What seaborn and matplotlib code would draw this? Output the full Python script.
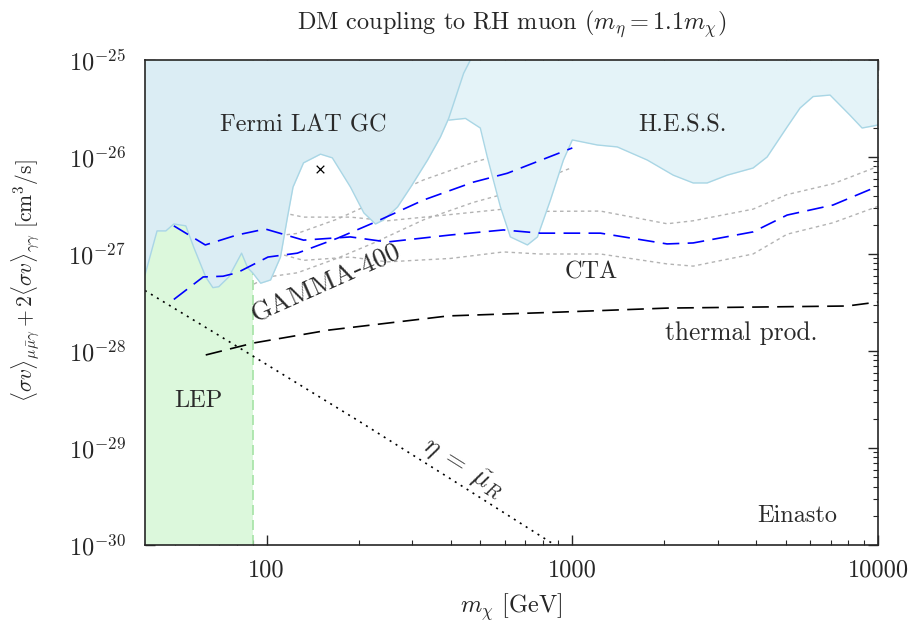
import matplotlib
matplotlib.use("Agg")
import matplotlib.pyplot as plt
import matplotlib.ticker as mticker
import seaborn as sns
import pandas as pd

# values (mass in GeV, <sigma v> in cm^3/s)
fermi_mass = [40, 43.8, 46.8, 49.7, 54.4, 57.7, 63.2, 66.7, 69.7, 75.2, 82.8, 86.7, 90, 95.6,
              103, 111, 117, 122, 132, 150, 164, 188, 208, 227, 241, 268, 296, 336, 370, 394,
              441, 464]
fermi_sv = [6.1e-28, 1.73e-27, 1.73e-27, 2.04e-27, 1.95e-27, 1.18e-27, 5.8e-28, 4.5e-28,
            4.6e-28, 5.8e-28, 1.02e-27, 7.2e-28, 6.4e-28, 5.0e-28, 5.4e-28, 9.3e-28, 2.4e-27,
            4.9e-27, 8.7e-27, 1.07e-26, 9.8e-27, 4.9e-27, 2.65e-27, 2.04e-27, 2.24e-27,
            3.05e-27, 4.9e-27, 9.3e-27, 1.6e-26, 2.5e-26, 7.3e-26, 1e-25]

hess_mass = [394, 447, 500, 527, 582, 627, 713, 769, 848, 935, 1000, 1207, 1403, 1759, 2138,
             2485, 2761, 3212, 3902, 4337, 5043, 5559, 6134, 6970, 8095, 8870, 9635, 10000]
hess_sv = [2.4e-26, 2.5e-26, 1.99e-26, 1.0e-26, 3.05e-27, 1.5e-27, 1.24e-27, 1.5e-27, 3.6e-27,
           9.3e-27, 1.5e-26, 1.33e-26, 1.27e-26, 9.3e-27, 6.5e-27, 5.4e-27, 5.4e-27, 6.5e-27,
           7.7e-27, 1.0e-26, 2.04e-26, 3.2e-26, 4.2e-26, 4.35e-26, 2.7e-26, 1.99e-26, 2.09e-26,
           2.14e-26]

lep_mass_max = 90

gamma_mass = [49.7, 62, 72, 80, 101, 126, 171, 224, 326, 474, 613, 1000]
gamma_sv = [3.4e-28, 5.8e-28, 5.9e-28, 6.4e-28, 9.3e-28, 1.02e-27, 1.46e-27, 2.1e-27, 3.6e-27,
            5.5e-27, 6.8e-27, 1.24e-26]
gamma_up = [5.5e-28, 9.3e-28, 9.4e-28, 1.0e-27, 1.5e-27, 1.63e-27, 2.3e-27, 3.4e-27, 5.8e-27,
            8.8e-27, 1.1e-26, 2.0e-26]
gamma_lo = [2.1e-28, 3.6e-28, 3.7e-28, 4.0e-28, 5.8e-28, 6.4e-28, 9.1e-28, 1.3e-27, 2.25e-27,
            3.4e-27, 4.25e-27, 7.8e-27]

cta_mass = [49.7, 63, 80, 99, 132, 188, 248, 399, 595, 785, 1236, 2042, 2485, 3902, 5043,
            7128, 10000]
cta_sv = [1.95e-27, 1.24e-27, 1.57e-27, 1.81e-27, 1.39e-27, 1.5e-27, 1.33e-27, 1.57e-27,
          1.77e-27, 1.64e-27, 1.64e-27, 1.27e-27, 1.3e-27, 1.69e-27, 2.52e-27, 3.2e-27, 5.0e-27]
cta_up = [3.2e-27, 2.0e-27, 2.6e-27, 2.9e-27, 2.4e-27, 2.4e-27, 2.2e-27, 2.55e-27, 2.9e-27,
          2.75e-27, 2.77e-27, 2.05e-27, 2.2e-27, 2.9e-27, 4.1e-27, 5.3e-27, 8.0e-27]
cta_lo = [1.2e-27, 7.7e-28, 9.8e-28, 1.1e-27, 8.6e-28, 9.3e-28, 8.3e-28, 9.0e-28, 1.05e-27,
          1.0e-27, 1.0e-27, 7.9e-28, 7.5e-28, 1.0e-27, 1.6e-27, 2.1e-27, 3.1e-27]

thermal_mass = [63.2, 90.7, 159, 393, 916, 2050, 7925, 10000]
thermal_sv = [9.1e-29, 1.21e-28, 1.64e-28, 2.3e-28, 2.52e-28, 2.77e-28, 2.91e-28, 3.2e-28]

eta_mass = [40, 90, 200, 400, 800, 900]
eta_sv = [4.2e-28, 8.9e-29, 1.9e-29, 4.8e-30, 1.2e-30, 9.5e-31]

marker_mass = [150]
marker_sv = [7.5e-27]

x_ticks = [100, 1000, 10000]
y_ticks = [1e-30, 1e-29, 1e-28, 1e-27, 1e-26, 1e-25]

sns.set_style("ticks")
plt.rcParams['font.family'] = 'serif'
plt.rcParams['font.serif'] = ['cmr10']
plt.rcParams['mathtext.fontset'] = 'cm'
plt.rcParams['axes.formatter.use_mathtext'] = True
plt.rcParams['axes.unicode_minus'] = False

fs = 17.5
fig = plt.figure(figsize=(9.16, 6.21), dpi=100)
ax = fig.add_axes([145 / 916, 1 - 545 / 621, 733 / 916, 485 / 621])
ax.set_xscale('log')
ax.set_yscale('log')

top = 1e-25
bottom = 1e-30
edge = '#a9d6e5'
long_dash = (0, (10, 5))

# gray uncertainty bands (drawn underneath the excluded regions)
for m, v in [(gamma_mass, gamma_up), (gamma_mass, gamma_lo), (cta_mass, cta_up), (cta_mass, cta_lo)]:
    sns.lineplot(x=m, y=v, ax=ax, color='#b3b3b3', lw=1.0, linestyle=(0, (2.5, 2.5)),
                 estimator=None, sort=False, zorder=1)

# LEP
ax.fill_between([40, lep_mass_max], bottom, top, color='#dcf8dc', lw=0, zorder=2)
ax.plot([lep_mass_max, lep_mass_max], [bottom, top], color='#a6e3a6', lw=1.2,
        linestyle=(0, (6, 3)), zorder=2)

# H.E.S.S. and Fermi
ax.fill_between(hess_mass, hess_sv, top, color='#e4f3f8', lw=0, zorder=3)
sns.lineplot(x=hess_mass, y=hess_sv, ax=ax, color=edge, lw=1.0, estimator=None, sort=False, zorder=3)
ax.fill_between(fermi_mass, fermi_sv, top, color='#dbedf4', lw=0, zorder=4)
sns.lineplot(x=fermi_mass, y=fermi_sv, ax=ax, color=edge, lw=1.0, estimator=None, sort=False, zorder=4)

# projections and theory lines
sns.lineplot(x=gamma_mass, y=gamma_sv, ax=ax, color='blue', lw=1.2, linestyle=long_dash,
             estimator=None, sort=False, zorder=6)
sns.lineplot(x=cta_mass, y=cta_sv, ax=ax, color='blue', lw=1.2, linestyle=long_dash,
             estimator=None, sort=False, zorder=6)
sns.lineplot(x=thermal_mass, y=thermal_sv, ax=ax, color='black', lw=1.2, linestyle=long_dash,
             estimator=None, sort=False, zorder=6)
sns.lineplot(x=eta_mass, y=eta_sv, ax=ax, color='black', lw=1.2, linestyle=(0, (1.2, 3)),
             estimator=None, sort=False, zorder=6)
ax.scatter(marker_mass, marker_sv, marker='x', color='black', s=30, lw=0.9, zorder=7)

txt = '#2a2a2a'
ax.text(132, 2.1e-26, 'Fermi LAT GC', fontsize=fs, color=txt, ha='center', va='center', zorder=8)
ax.text(2300, 2.1e-26, 'H.E.S.S.', fontsize=fs, color=txt, ha='center', va='center', zorder=8)
ax.text(1150, 6.4e-28, 'CTA', fontsize=fs, color=txt, ha='center', va='center', zorder=8)
ax.text(3560, 1.53e-28, 'thermal prod.', fontsize=fs + 0.8, color=txt, ha='center', va='center', zorder=8)
ax.text(60, 3.05e-29, 'LEP', fontsize=fs, color=txt, ha='center', va='center', zorder=8)
ax.text(5430, 2.0e-30, 'Einasto', fontsize=fs, color=txt, ha='center', va='center', zorder=8)
ax.text(156, 5.0e-28, 'GAMMA-400', fontsize=fs + 2, color=txt, ha='center', va='center',
        rotation=24, rotation_mode='anchor', zorder=8)
ax.text(440, 6.2e-30, r'$\eta\;=\;\tilde{\mu}_R$', fontsize=fs + 2, color=txt, ha='center', va='center',
        rotation=-32, rotation_mode='anchor', zorder=8)

ax.set_xlim(40, 10000)
ax.set_ylim(bottom, top)
ax.set_xticks(x_ticks)
ax.set_xticklabels([str(t) for t in x_ticks])
ax.xaxis.set_minor_locator(mticker.LogLocator(base=10, subs=range(2, 10), numticks=20))
ax.xaxis.set_minor_formatter(mticker.NullFormatter())
ax.set_yticks(y_ticks)
ax.yaxis.set_minor_locator(mticker.LogLocator(base=10, subs=range(2, 10), numticks=20))
ax.yaxis.set_minor_formatter(mticker.NullFormatter())
ax.set_ylim(bottom, top)
ax.tick_params(which='both', direction='in', top=True, right=True, labelsize=fs)
ax.tick_params(which='major', length=7, width=1.0)
ax.tick_params(which='minor', length=3.5, width=0.8)
ax.tick_params(axis='x', pad=10)
ax.tick_params(axis='y', pad=14)
for s in ax.spines.values():
    s.set_linewidth(1.2)
    s.set_zorder(10)

ax.set_title(r'DM coupling to RH muon ($m_\eta = 1.1 m_\chi$)', fontsize=fs, pad=22)
ax.set_xlabel(r'$m_\chi$ [GeV]', fontsize=fs)
ax.set_ylabel(r'$\langle\sigma v\rangle_{\mu\bar{\mu}\gamma} + 2\langle\sigma v\rangle_{\gamma\gamma}$ [cm$^3$/s]',
              fontsize=15.5)
ax.xaxis.set_label_coords(0.5, -0.095)
ax.yaxis.set_label_coords(-0.14, 0.545)

fig.savefig('out.png', dpi=100)
